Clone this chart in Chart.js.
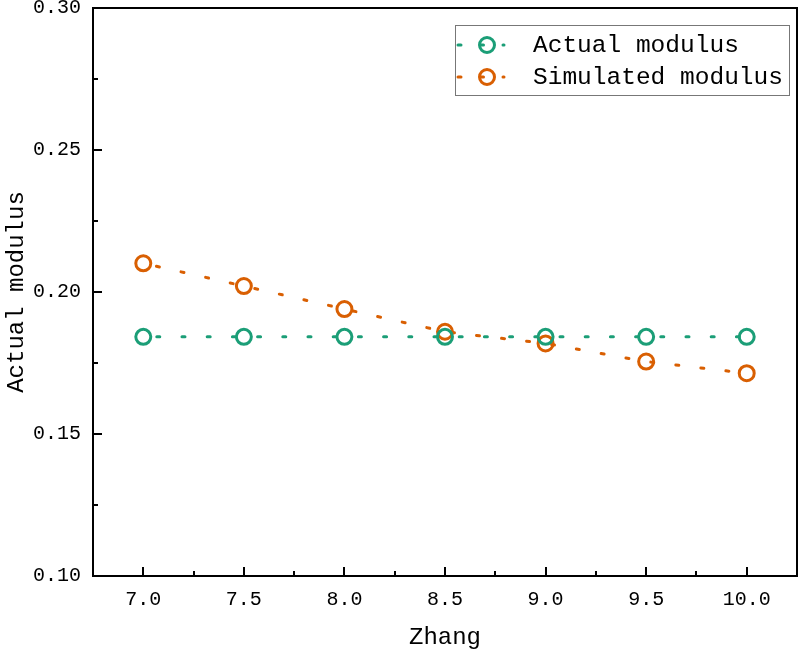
<!DOCTYPE html>
<html>
<head>
<meta charset="utf-8">
<script src="https://cdn.jsdelivr.net/npm/chart.js@4.4.0/dist/chart.umd.min.js"></script>
<style>
html, body { margin: 0; padding: 0; background: #fff; overflow: hidden; }
canvas { display: block; }
</style>
</head>
<body>
<canvas id="modulusChart" width="800" height="653"></canvas>
<script>
const zhangValues = [7.0, 7.5, 8.0, 8.5, 9.0, 9.5, 10.0]; // x positions
const actualModulus = [0.1842, 0.1842, 0.1842, 0.1842, 0.1842, 0.1842, 0.1842];
const simulatedModulus = [0.2101, 0.2021, 0.1940, 0.1860, 0.1819, 0.1755, 0.1714];

const xTicks = [7.0, 7.5, 8.0, 8.5, 9.0, 9.5, 10.0];
const xMinorTicks = [7.25, 7.75, 8.25, 8.75, 9.25, 9.75];
const yTicks = [0.10, 0.15, 0.20, 0.25, 0.30];
const yMinorTicks = [0.125, 0.175, 0.225, 0.275];

const seriesNames = ['Actual modulus', 'Simulated modulus'];
const seriesColors = ['#1b9e77', '#d95f02'];

const monoFont = '"Liberation Mono", "DejaVu Sans Mono", monospace';

// frame + inward ticks, drawn by hand
const framePlugin = {
    id: 'frame',
    afterDatasetsDraw(chart) {
        const { ctx, chartArea: a, scales: { x, y } } = chart;
        ctx.save();
        ctx.strokeStyle = '#000';
        ctx.lineWidth = 2;
        ctx.strokeRect(a.left, a.top, a.right - a.left, a.bottom - a.top);
        ctx.beginPath();
        xTicks.forEach(v => {
            const px = Math.round(x.getPixelForValue(v));
            ctx.moveTo(px, a.bottom); ctx.lineTo(px, a.bottom - 9);
        });
        xMinorTicks.forEach(v => {
            const px = Math.round(x.getPixelForValue(v));
            ctx.moveTo(px, a.bottom); ctx.lineTo(px, a.bottom - 5);
        });
        yTicks.forEach(v => {
            const py = Math.round(y.getPixelForValue(v));
            ctx.moveTo(a.left, py); ctx.lineTo(a.left + 9, py);
        });
        yMinorTicks.forEach(v => {
            const py = Math.round(y.getPixelForValue(v));
            ctx.moveTo(a.left, py); ctx.lineTo(a.left + 5, py);
        });
        ctx.stroke();
        ctx.restore();
    }
};

// legend box in the top right corner
const legendPlugin = {
    id: 'boxLegend',
    afterDraw(chart) {
        const ctx = chart.ctx;
        const box = { x: 455, y: 25, w: 334, h: 70 };
        ctx.save();
        ctx.strokeStyle = '#777';
        ctx.lineWidth = 1;
        ctx.strokeRect(box.x + 0.5, box.y + 0.5, box.w, box.h);
        chart.data.datasets.forEach((ds, i) => {
            const cy = 45 + i * 32;
            ctx.strokeStyle = ds.borderColor;
            ctx.lineWidth = 3;
            ctx.lineCap = 'round';
            ctx.setLineDash([3, 19.5]);
            ctx.beginPath();
            ctx.moveTo(458, cy); ctx.lineTo(504, cy);
            ctx.stroke();
            ctx.setLineDash([]);
            ctx.lineWidth = 3;
            ctx.beginPath();
            ctx.arc(487, cy, 7.5, 0, Math.PI * 2);
            ctx.stroke();
            ctx.fillStyle = '#000';
            ctx.font = '24.5px ' + monoFont;
            ctx.textAlign = 'left';
            ctx.textBaseline = 'middle';
            ctx.fillText(ds.label, 533, cy + 1);
        });
        ctx.restore();
    }
};

function makeDataset(label, values, color) {
    return {
        label: label,
        data: zhangValues.map((v, i) => ({ x: v, y: values[i] })),
        borderColor: color,
        backgroundColor: 'rgba(0,0,0,0)',
        borderWidth: 3,
        borderDash: [3, 22.2],
        borderDashOffset: 11.7,
        borderCapStyle: 'round',
        pointRadius: 7.5,
        pointBorderWidth: 3,
        pointBackgroundColor: 'rgba(0,0,0,0)',
        pointBorderColor: color,
        tension: 0,
        fill: false
    };
}

const canvas = document.getElementById('modulusChart');
if (canvas) {
    const ctx = canvas.getContext('2d');

    new Chart(ctx, {
        type: 'line',
        data: {
            datasets: [
                makeDataset(seriesNames[0], actualModulus, seriesColors[0]),
                makeDataset(seriesNames[1], simulatedModulus, seriesColors[1])
            ]
        },
        options: {
            responsive: false,
            animation: false,
            layout: { autoPadding: false, padding: { top: 8, right: 3, left: 0, bottom: 0 } },
            plugins: {
                legend: { display: false },
                tooltip: { enabled: false }
            },
            scales: {
                x: {
                    type: 'linear',
                    min: 6.75,
                    max: 10.25,
                    afterBuildTicks: s => { s.ticks = xTicks.map(v => ({ value: v })); },
                    afterFit: s => {
                        s.height = 77;
                        s.paddingLeft = 0; s.paddingRight = 0;
                    },
                    grid: { display: false, drawTicks: false },
                    border: { display: false },
                    ticks: {
                        color: '#000',
                        padding: 12,
                        maxRotation: 0,
                        font: { family: monoFont, size: 20 },
                        callback: v => Number(v).toFixed(1)
                    },
                    title: {
                        display: true,
                        text: 'Zhang',
                        color: '#000',
                        font: { family: monoFont, size: 24 },
                        padding: { top: 4, bottom: 1 }
                    }
                },
                y: {
                    min: 0.10,
                    max: 0.30,
                    afterBuildTicks: s => { s.ticks = yTicks.map(v => ({ value: v })); },
                    afterFit: s => {
                        s.width = 93;
                        s.paddingTop = 0; s.paddingBottom = 0;
                    },
                    grid: { display: false, drawTicks: false },
                    border: { display: false },
                    ticks: {
                        color: '#000',
                        padding: 12,
                        font: { family: monoFont, size: 20 },
                        callback: v => Number(v).toFixed(2)
                    },
                    title: {
                        display: true,
                        text: 'Actual modulus',
                        color: '#000',
                        font: { family: monoFont, size: 24 },
                        padding: { top: 2, bottom: 4 }
                    }
                }
            }
        },
        plugins: [framePlugin, legendPlugin]
    });
} else {
    console.error('Canvas element not found');
}
</script>
</body>
</html>
